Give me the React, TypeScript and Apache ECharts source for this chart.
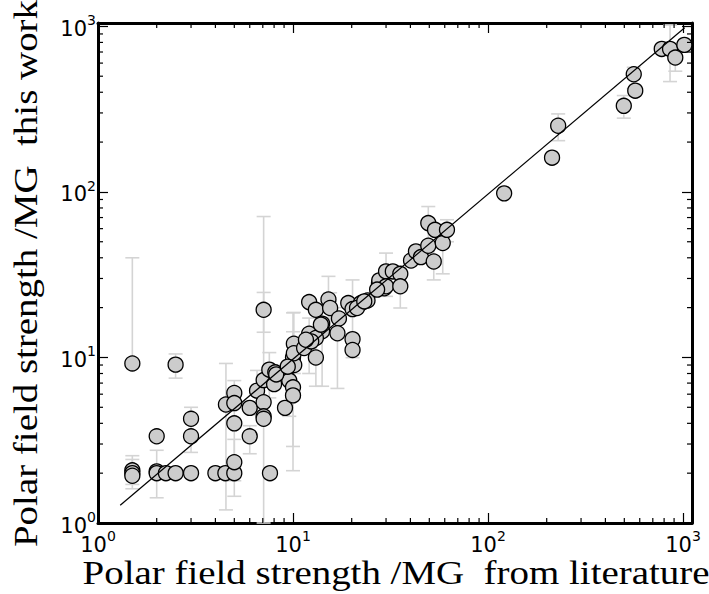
import React, { useEffect, useRef } from "react";
import * as echarts from "echarts";

// Polar field strength (MG) from literature (x) vs. this work (y)
const litField = [
  1.5, 2.5, 1.5, 1.5, 1.5, 2.0, 2.0, 2.0, 2.23, 2.5,
  3.0, 3.0, 3.0, 4.0, 4.5, 5.0, 5.0, 4.53, 5.0, 5.0,
  5.0, 6.0, 6.0, 6.54, 7.07, 7.07, 7.07, 7.07, 7.62, 7.07,
  7.56, 8.11, 8.0, 9.1, 9.57, 10.0, 10.1, 9.57, 10.0, 10.0,
  10.15, 10.1, 8.2, 11.4, 12.1, 13.1, 15.2, 15.5, 17.2, 16.9,
  19.2, 20.2, 20.2, 20.2, 22.3, 24.1, 14.1, 14.1, 12.1, 13.1,
  12.4, 13.1, 13.9, 27.6, 29.4, 27.7, 30.0, 32.5, 30.0, 35.5,
  35.5, 40.3, 42.7, 45.3, 49.4, 49.4, 52.7, 53.5, 58.6, 61.6,
  121, 213, 229, 497, 559, 569, 778, 858, 913, 1016,
  21.3, 27.0, 23.2, 11.65, 9.4,
];
const thisWork = [
  9.2, 9.05, 2.08, 2.0, 1.93, 3.34, 2.05, 2.0, 2.0, 2.0,
  2.0, 3.34, 4.26, 2.0, 2.0, 2.0, 2.33, 5.2, 6.1, 5.3,
  4.0, 4.96, 3.34, 6.3, 5.36, 4.41, 4.26, 19.4, 2.0, 7.3,
  8.44, 8.13, 6.9, 4.96, 8.8, 10.0, 12.1, 7.25, 6.6, 5.9,
  9.0, 10.6, 7.9, 11.4, 21.6, 19.4, 22.4, 19.9, 17.2, 14.0,
  21.3, 19.6, 12.9, 11.1, 21.3, 22.1, 16.0, 14.4, 13.9, 13.1,
  12.5, 10.0, 15.8, 28.1, 26.2, 29.2, 33.1, 33.1, 26.9, 32.0,
  26.9, 38.5, 43.7, 40.4, 64.8, 47.3, 38.0, 59.0, 49.1, 59.0,
  98, 161, 251, 331, 514, 409, 731, 731, 648, 773,
  19.9, 25.7, 21.8, 12.8, 8.8,
];
// error bar limits (null = no error bar)
const errLow = [
  9.2, 7.5, 1.71, 1.61, null, null, 1.42, null, null, null,
  null, 2.67, null, null, null, null, 1.8, 1.2, null, null,
  1.45, null, 2.62, 4.5, null, null, 1.0, 14.2, null, null,
  5.7, null, null, null, null, null, 8.0, 4.41, 2.9, 2.07,
  null, null, null, null, null, null, 17.0, 15.0, null, 6.5,
  null, 9.97, null, null, null, null, null, 6.7, 8.0, null,
  null, 6.7, null, null, null, null, 23.4, null, null, null,
  19.9, null, null, null, 50, null, 29.4, null, 32, 50,
  null, null, 204, 279, 420, null, null, 464, 536, null,
  null, null, null, null, null,
];
const errHigh = [
  40, 10.5, 2.55, 2.42, null, null, 2.75, null, null, null,
  null, 5.0, null, null, null, null, 3.2, 9.2, null, null,
  7.25, null, 3.87, 8.35, null, null, 71, 24.7, null, null,
  10.7, null, null, null, null, null, 18.7, 9.0, 14.3, 18.6,
  null, null, null, null, null, null, 30.9, 24.6, null, 20.0,
  null, 29.4, null, null, null, null, null, 20.0, 17.3, null,
  null, 14.7, null, null, null, null, 42.7, null, null, null,
  33.0, null, null, null, 81.6, null, 48, null, 60, 67.9,
  null, null, 296, 382, 566, null, null, 1020, 760, null,
  null, null, null, null, null,
];

// one-to-one reference line
const refLineX = [1.3, 1020];
const refLineY = [1.28, 980];

const xMin = 1;
const xMax = 1112;
const yMin = 1;
const yMax = 1048;
const minorTickValues = [
  2, 3, 4, 5, 6, 7, 8, 9, 20, 30, 40, 50, 60, 70, 80, 90,
  200, 300, 400, 500, 600, 700, 800, 900,
];

const xTitle = "Polar field strength /MG  from literature";
const yTitle = "Polar field strength /MG  this work";

const labelFormatter = (v: number) => {
  const e = Math.round(Math.log10(v));
  if (Math.abs(v - Math.pow(10, e)) > 1e-6 * v) return "";
  return `{b|10}{s|${e}}`;
};

const labelRich = {
  b: { fontSize: 21, fontFamily: "DejaVu Sans", color: "#000", lineHeight: 26, verticalAlign: "bottom" },
  s: { fontSize: 14, fontFamily: "DejaVu Sans", color: "#000", lineHeight: 26, verticalAlign: "top" },
};

const titleFont = { fontFamily: "Liberation Serif", fontSize: 33 };
const titleStretch = 1.18;

const baseAxis = {
  type: "log",
  logBase: 10,
  axisLine: { show: true, onZero: false, lineStyle: { color: "#000", width: 3 } },
  axisTick: { show: true, inside: true, length: 10, lineStyle: { color: "#000", width: 1.2 } },
  splitLine: { show: false },
  minorTick: { show: false },
};

export default function App() {
  const ref = useRef<HTMLDivElement>(null);
  useEffect(() => {
    if (!ref.current) return;
    const chart = echarts.init(ref.current, undefined, { renderer: "svg" });

    const scatterData = litField.map((x, i) => [x, thisWork[i]]);
    const errData: number[][] = [];
    litField.forEach((x, i) => {
      if (errLow[i] != null && errHigh[i] != null) errData.push([x, errLow[i] as number, errHigh[i] as number]);
    });

    const option = {
      animation: false,
      backgroundColor: "#fff",
      grid: { left: 98, top: 23, width: 594, height: 500, containLabel: false, outerBoundsMode: "none" },
      graphic: [
        {
          type: "text",
          x: 396,
          y: 573,
          scaleX: titleStretch,
          style: {
            text: xTitle,
            ...titleFont,
            fill: "#000",
            textAlign: "center",
            textVerticalAlign: "middle",
            align: "center",
            verticalAlign: "middle",
          },
        },
        {
          type: "text",
          x: 26,
          y: 273.5,
          rotation: Math.PI / 2,
          scaleX: titleStretch,
          style: {
            text: yTitle,
            ...titleFont,
            fill: "#000",
            textAlign: "center",
            textVerticalAlign: "middle",
            align: "center",
            verticalAlign: "middle",
          },
        },
      ],
      xAxis: [
        {
          ...baseAxis,
          position: "bottom",
          min: xMin,
          max: xMax,
          axisLabel: { show: true, margin: 6, formatter: labelFormatter, rich: labelRich, showMaxLabel: false },
        },
        {
          ...baseAxis,
          position: "top",
          min: xMin,
          max: xMax,
          axisLabel: { show: false },
        },
      ],
      yAxis: [
        {
          ...baseAxis,
          position: "left",
          min: yMin,
          max: yMax,
          axisLabel: { show: true, margin: 2, formatter: labelFormatter, rich: labelRich, showMaxLabel: false },
        },
        {
          ...baseAxis,
          position: "right",
          min: yMin,
          max: yMax,
          axisLabel: { show: false },
        },
      ],
      series: [
        {
          type: "custom",
          coordinateSystem: "cartesian2d",
          xAxisIndex: 0,
          yAxisIndex: 0,
          z: 1,
          encode: { x: 0, y: [1, 2] },
          data: errData,
          renderItem: (params: any, api: any) => {
            const x = api.value(0);
            const lo = api.coord([x, api.value(1)]);
            const hi = api.coord([x, api.value(2)]);
            const hw = 7;
            const st = { stroke: "#d4d4d4", lineWidth: 1.6 };
            return {
              type: "group",
              children: [
                { type: "line", shape: { x1: lo[0], y1: lo[1], x2: hi[0], y2: hi[1] }, style: st },
                { type: "line", shape: { x1: lo[0] - hw, y1: lo[1], x2: lo[0] + hw, y2: lo[1] }, style: st },
                { type: "line", shape: { x1: hi[0] - hw, y1: hi[1], x2: hi[0] + hw, y2: hi[1] }, style: st },
              ],
            };
          },
        },
        {
          type: "scatter",
          xAxisIndex: 0,
          yAxisIndex: 0,
          z: 2,
          data: scatterData,
          symbol: "circle",
          symbolSize: 15,
          itemStyle: { color: "#cccccc", borderColor: "#000", borderWidth: 1.3, opacity: 1 },
        },
        {
          type: "line",
          xAxisIndex: 0,
          yAxisIndex: 0,
          z: 3,
          data: refLineX.map((x, i) => [x, refLineY[i]]),
          showSymbol: false,
          symbol: "none",
          lineStyle: { color: "#000", width: 1.2 },
        },
        {
          type: "custom",
          coordinateSystem: "cartesian2d",
          xAxisIndex: 0,
          yAxisIndex: 0,
          z: 4,
          data: minorTickValues.map((v) => [v, 1]),
          renderItem: (params: any, api: any) => {
            const cs = params.coordSys;
            const p = api.coord([api.value(0), 1]);
            const st = { stroke: "#000", lineWidth: 1.2 };
            const b = cs.y + cs.height;
            return {
              type: "group",
              children: [
                { type: "line", shape: { x1: p[0], y1: b, x2: p[0], y2: b - 5 }, style: st },
                { type: "line", shape: { x1: p[0], y1: cs.y, x2: p[0], y2: cs.y + 5 }, style: st },
              ],
            };
          },
        },
        {
          type: "custom",
          coordinateSystem: "cartesian2d",
          xAxisIndex: 0,
          yAxisIndex: 0,
          z: 4,
          data: minorTickValues.map((v) => [1, v]),
          renderItem: (params: any, api: any) => {
            const cs = params.coordSys;
            const p = api.coord([1, api.value(1)]);
            const st = { stroke: "#000", lineWidth: 1.2 };
            const r = cs.x + cs.width;
            return {
              type: "group",
              children: [
                { type: "line", shape: { x1: cs.x, y1: p[1], x2: cs.x + 5, y2: p[1] }, style: st },
                { type: "line", shape: { x1: r, y1: p[1], x2: r - 5, y2: p[1] }, style: st },
              ],
            };
          },
        },
      ],
    };
    chart.setOption(option as any);
    return () => chart.dispose();
  }, []);

  return (
    <div
      ref={ref}
      style={{ position: "fixed", left: 0, top: 0, width: 709, height: 594, background: "#fff" }}
    />
  );
}
